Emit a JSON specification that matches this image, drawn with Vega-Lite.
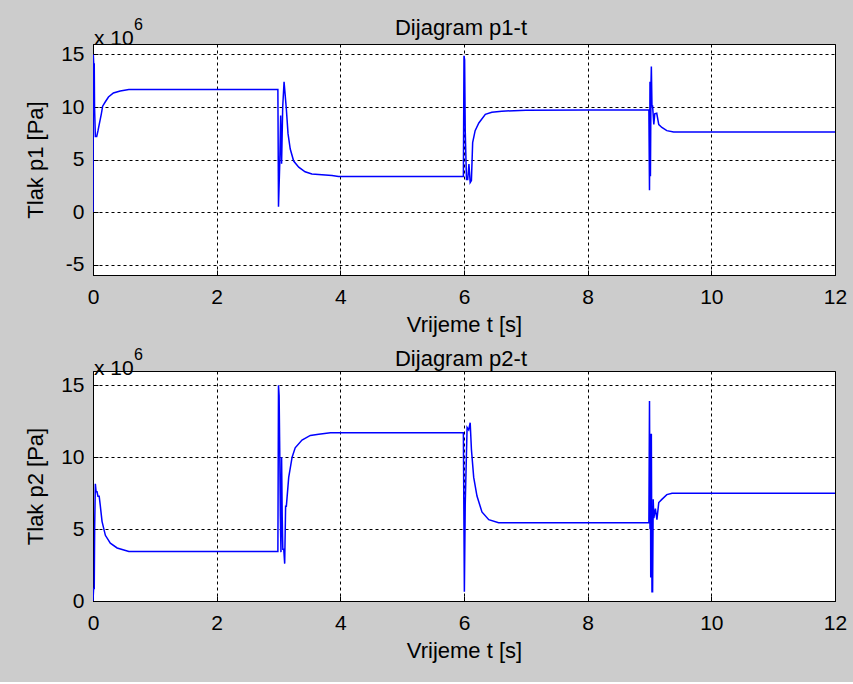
{
  "$schema": "https://vega.github.io/schema/vega-lite/v6.json",
  "background": "#cccccc",
  "padding": {"left": 23, "top": 15, "right": 15, "bottom": 20},
  "spacing": 10,
  "config": {
    "font": "Liberation Sans",
    "view": {"fill": "white", "stroke": "black", "strokeWidth": 1},
    "axis": {
      "domainColor": "black",
      "grid": true,
      "gridColor": "black",
      "gridDash": [3, 3],
      "gridOpacity": 1,
      "gridWidth": 1,
      "ticks": true,
      "tickColor": "black",
      "tickSize": -5,
      "labelFontSize": 21,
      "labelColor": "black",
      "labelFlush": false,
      "labelOverlap": false,
      "labelExpr": "'' + datum.value",
      "titleFontSize": 22,
      "titleFontWeight": "normal",
      "titleColor": "black"
    },
    "axisX": {"labelPadding": 16, "titlePadding": 7},
    "axisY": {"labelPadding": 14, "titlePadding": 13.5}
  },
  "datasets": {
    "p1": [
      {"t": 0, "p": 0}, {"t": 0.005, "p": 15}, {"t": 0.012, "p": 14.1}, {"t": 0.02, "p": 14.1},
      {"t": 0.025, "p": 10}, {"t": 0.038, "p": 7.2}, {"t": 0.06, "p": 7.2}, {"t": 0.081, "p": 7.75},
      {"t": 0.1, "p": 8.33}, {"t": 0.135, "p": 9.35}, {"t": 0.156, "p": 10.08}, {"t": 0.2, "p": 10.5},
      {"t": 0.25, "p": 10.95}, {"t": 0.33, "p": 11.33}, {"t": 0.44, "p": 11.53}, {"t": 0.58, "p": 11.67},
      {"t": 2.99, "p": 11.67}, {"t": 3.0, "p": 0.5}, {"t": 3.02, "p": 4.6}, {"t": 3.035, "p": 9.2},
      {"t": 3.05, "p": 4.6}, {"t": 3.068, "p": 10}, {"t": 3.09, "p": 12.4}, {"t": 3.1, "p": 11.7},
      {"t": 3.127, "p": 9.8}, {"t": 3.154, "p": 7.46}, {"t": 3.19, "p": 6.0}, {"t": 3.245, "p": 4.85},
      {"t": 3.327, "p": 4.27}, {"t": 3.43, "p": 3.83}, {"t": 3.54, "p": 3.63}, {"t": 3.865, "p": 3.48},
      {"t": 3.97, "p": 3.39}, {"t": 5.99, "p": 3.39}, {"t": 6.0, "p": 14.87}, {"t": 6.01, "p": 14.5},
      {"t": 6.02, "p": 7.75}, {"t": 6.04, "p": 3.1}, {"t": 6.06, "p": 3.1}, {"t": 6.08, "p": 4.56},
      {"t": 6.1, "p": 2.8}, {"t": 6.12, "p": 3.0}, {"t": 6.14, "p": 6.6}, {"t": 6.18, "p": 7.75},
      {"t": 6.24, "p": 8.48}, {"t": 6.345, "p": 9.3}, {"t": 6.45, "p": 9.5}, {"t": 6.61, "p": 9.6},
      {"t": 7.0, "p": 9.7}, {"t": 8.99, "p": 9.73}, {"t": 9.0, "p": 2.08}, {"t": 9.008, "p": 12.4},
      {"t": 9.015, "p": 3.4}, {"t": 9.025, "p": 12.4}, {"t": 9.03, "p": 13.85}, {"t": 9.04, "p": 10.1},
      {"t": 9.05, "p": 10.1}, {"t": 9.07, "p": 8.33}, {"t": 9.085, "p": 9.35}, {"t": 9.117, "p": 9.4},
      {"t": 9.15, "p": 8.33}, {"t": 9.2, "p": 8.05}, {"t": 9.28, "p": 7.75}, {"t": 9.39, "p": 7.61},
      {"t": 12, "p": 7.61}
    ],
    "p2": [
      {"t": 0, "p": 0}, {"t": 0.01, "p": 0.87}, {"t": 0.02, "p": 0.87}, {"t": 0.027, "p": 5.2},
      {"t": 0.038, "p": 8.15}, {"t": 0.05, "p": 7.6}, {"t": 0.065, "p": 7.6}, {"t": 0.08, "p": 7.29},
      {"t": 0.1, "p": 7.29}, {"t": 0.118, "p": 6.63}, {"t": 0.146, "p": 5.54}, {"t": 0.2, "p": 4.57},
      {"t": 0.28, "p": 4.02}, {"t": 0.39, "p": 3.69}, {"t": 0.58, "p": 3.44}, {"t": 2.99, "p": 3.44},
      {"t": 3.0, "p": 15}, {"t": 3.01, "p": 14.3}, {"t": 3.02, "p": 10.5}, {"t": 3.03, "p": 5.9},
      {"t": 3.04, "p": 3.4}, {"t": 3.05, "p": 10}, {"t": 3.06, "p": 5.9}, {"t": 3.07, "p": 3.6},
      {"t": 3.085, "p": 3.6}, {"t": 3.1, "p": 2.6}, {"t": 3.115, "p": 6.6}, {"t": 3.127, "p": 6.6},
      {"t": 3.165, "p": 8.6}, {"t": 3.22, "p": 10}, {"t": 3.27, "p": 10.66}, {"t": 3.38, "p": 11.2},
      {"t": 3.515, "p": 11.52}, {"t": 3.65, "p": 11.6}, {"t": 3.84, "p": 11.7}, {"t": 5.99, "p": 11.7},
      {"t": 6.006, "p": 0.65}, {"t": 6.02, "p": 6.74}, {"t": 6.05, "p": 12.07}, {"t": 6.076, "p": 11.9},
      {"t": 6.1, "p": 12.4}, {"t": 6.12, "p": 10.55}, {"t": 6.157, "p": 8.6}, {"t": 6.21, "p": 7.3},
      {"t": 6.29, "p": 6.2}, {"t": 6.4, "p": 5.66}, {"t": 6.56, "p": 5.45}, {"t": 8.99, "p": 5.45},
      {"t": 9.0, "p": 13.92}, {"t": 9.008, "p": 5}, {"t": 9.015, "p": 11.64}, {"t": 9.02, "p": 1.63},
      {"t": 9.03, "p": 11.64}, {"t": 9.04, "p": 0.65}, {"t": 9.05, "p": 0.65}, {"t": 9.06, "p": 7.07},
      {"t": 9.07, "p": 5.77}, {"t": 9.095, "p": 6.42}, {"t": 9.12, "p": 5.66}, {"t": 9.15, "p": 6.85},
      {"t": 9.2, "p": 7.07}, {"t": 9.28, "p": 7.4}, {"t": 9.365, "p": 7.5}, {"t": 12, "p": 7.5}
    ]
  },
  "vconcat": [
    {
      "width": 742,
      "height": 231,
      "layer": [
        {
          "data": {"name": "p1"},
          "mark": {"type": "line", "color": "#0000ff", "strokeWidth": 1.5, "clip": true},
          "encoding": {
            "x": {"field": "t", "type": "quantitative", "scale": {"domain": [0, 12]},
                  "axis": {"title": "Vrijeme t [s]", "values": [0, 2, 4, 6, 8, 10, 12]}},
            "y": {"field": "p", "type": "quantitative", "scale": {"domain": [-5, 15]},
                  "axis": {"title": "Tlak p1 [Pa]", "values": [-5, 0, 5, 10, 15]}}
          }
        },
        {
          "data": {"values": [{}]},
          "mark": {"type": "text", "text": "Dijagram p1-t", "fontSize": 22, "align": "center", "baseline": "alphabetic", "dx": -3, "dy": -19.5, "color": "black"},
          "encoding": {"x": {"datum": 6, "type": "quantitative"}, "y": {"datum": 15, "type": "quantitative"}}
        },
        {
          "data": {"values": [{}]},
          "mark": {"type": "text", "text": "x 10", "fontSize": 21, "align": "left", "baseline": "alphabetic", "dx": 1, "dy": -10, "color": "black"},
          "encoding": {"x": {"datum": 0, "type": "quantitative"}, "y": {"datum": 15, "type": "quantitative"}}
        },
        {
          "data": {"values": [{}]},
          "mark": {"type": "text", "text": "6", "fontSize": 16, "align": "left", "baseline": "alphabetic", "dx": 41, "dy": -25, "color": "black"},
          "encoding": {"x": {"datum": 0, "type": "quantitative"}, "y": {"datum": 15, "type": "quantitative"}}
        }
      ]
    },
    {
      "width": 742,
      "height": 230,
      "layer": [
        {
          "data": {"name": "p2"},
          "mark": {"type": "line", "color": "#0000ff", "strokeWidth": 1.5, "clip": true},
          "encoding": {
            "x": {"field": "t", "type": "quantitative", "scale": {"domain": [0, 12]},
                  "axis": {"title": "Vrijeme t [s]", "values": [0, 2, 4, 6, 8, 10, 12]}},
            "y": {"field": "p", "type": "quantitative", "scale": {"domain": [0, 15]},
                  "axis": {"title": "Tlak p2 [Pa]", "values": [0, 5, 10, 15]}}
          }
        },
        {
          "data": {"values": [{}]},
          "mark": {"type": "text", "text": "Dijagram p2-t", "fontSize": 22, "align": "center", "baseline": "alphabetic", "dx": -3, "dy": -19.5, "color": "black"},
          "encoding": {"x": {"datum": 6, "type": "quantitative"}, "y": {"datum": 15, "type": "quantitative"}}
        },
        {
          "data": {"values": [{}]},
          "mark": {"type": "text", "text": "x 10", "fontSize": 21, "align": "left", "baseline": "alphabetic", "dx": 1, "dy": -10, "color": "black"},
          "encoding": {"x": {"datum": 0, "type": "quantitative"}, "y": {"datum": 15, "type": "quantitative"}}
        },
        {
          "data": {"values": [{}]},
          "mark": {"type": "text", "text": "6", "fontSize": 16, "align": "left", "baseline": "alphabetic", "dx": 41, "dy": -25, "color": "black"},
          "encoding": {"x": {"datum": 0, "type": "quantitative"}, "y": {"datum": 15, "type": "quantitative"}}
        }
      ]
    }
  ]
}
